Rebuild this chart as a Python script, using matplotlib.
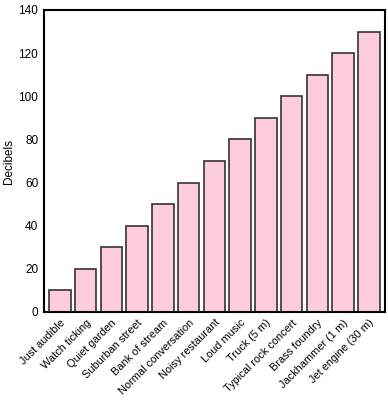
import matplotlib
matplotlib.use("Agg")
import matplotlib.pyplot as plt

categories = ["Just audible", "Watch ticking", "Quiet garden", "Suburban street",
              "Bank of stream", "Normal conversation", "Noisy restaurant", "Loud music",
              "Truck (5 m)", "Typical rock concert", "Brass foundry", "Jackhammer (1 m)",
              "Jet engine (30 m)"]
decibels = [10, 20, 30, 40, 50, 60, 70, 80, 90, 100, 110, 120, 130]
yticks = [0, 20, 40, 60, 80, 100, 120, 140]

plt.rcParams['font.family'] = ['Liberation Sans', 'DejaVu Sans']

fig = plt.figure(figsize=(3.88, 4.0), dpi=100)
ax = fig.add_axes([0.113, 0.22, 0.879, 0.755])
x = list(range(len(categories)))
ax.bar(x, decibels, width=0.84, color="#FFCCDD", edgecolor="#333333", linewidth=1.2)
ax.set_xlim(-0.62, len(categories) - 0.38)
ax.set_ylim(0, 140)
ax.set_yticks(yticks)
ax.set_yticklabels([str(t) for t in yticks], fontsize=8.5)
ax.set_xticks(x)
ax.set_xticklabels(categories, rotation=45, ha="right", rotation_mode="anchor", fontsize=7.9)
ax.tick_params(axis="both", length=0, pad=4)
ax.set_ylabel("Decibels", fontsize=8.5)
ax.yaxis.set_label_coords(-0.085, 0.5)
for s in ax.spines.values():
    s.set_linewidth(1.5)
    s.set_color("black")
fig.savefig("out.png", dpi=100)
